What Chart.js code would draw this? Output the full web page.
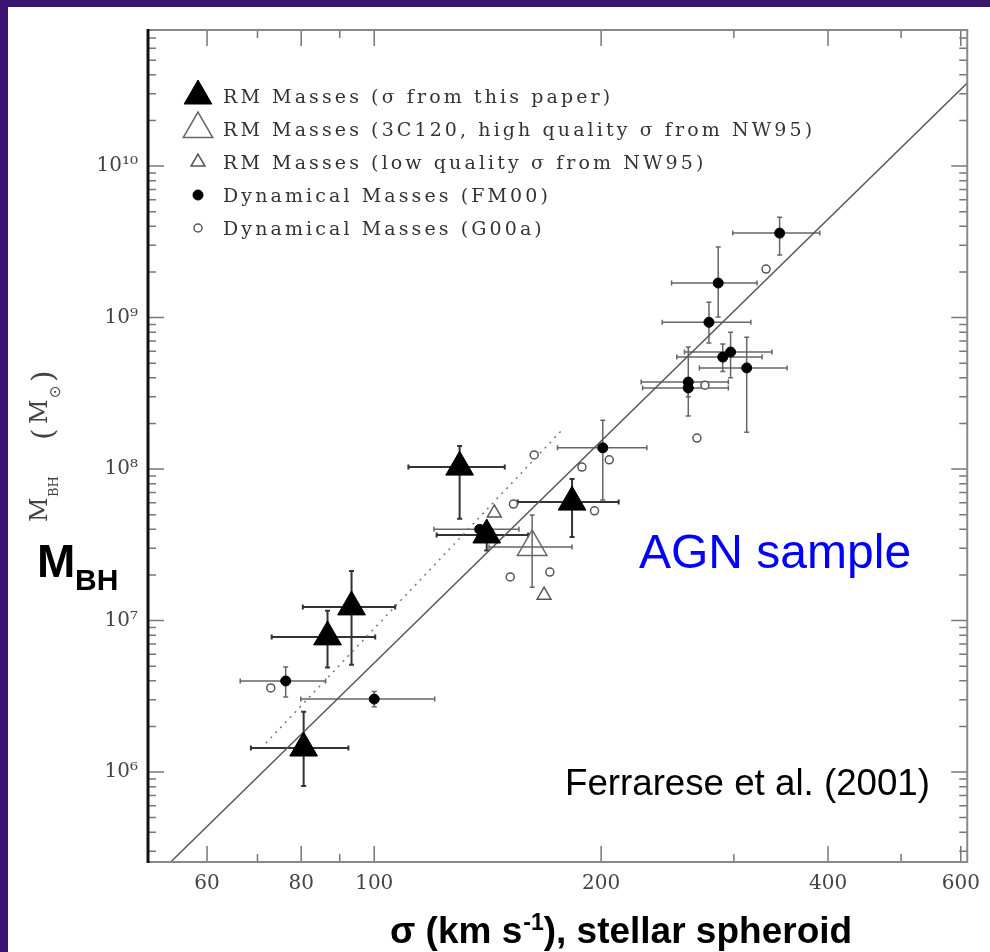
<!DOCTYPE html>
<html>
<head>
<meta charset="utf-8">
<script src="https://cdn.jsdelivr.net/npm/chart.js@4.4.0/dist/chart.umd.min.js"></script>
<style>
  html, body { margin: 0; padding: 0; background: #3a1470; }
  body { width: 990px; height: 952px; overflow: hidden; position: relative; }
  #wrap { position: absolute; left: 8px; top: 7px; width: 982px; height: 945px; background: #fff; }
</style>
</head>
<body>
<div id="wrap"><canvas id="myChart" width="982" height="945"></canvas></div>
<script>
// RM masses (sigma from this paper)
var rmSigma   = [129.8, 183, 141, 93.3, 86.7, 80.6]
var rmMass    = [1.03e8, 6.05e7, 3.67e7, 1.23e7, 7.8e6, 1.44e6]
var rmSigmaLo = [111, 155, 121, 80.4, 73.1, 68.6]
var rmSigmaHi = [149, 211, 160, 106.6, 100.3, 92.4]
var rmMassLo  = [4.7e7, 3.56e7, 2.9e7, 5.1e6, 4.9e6, 8.1e5]
var rmMassHi  = [1.42e8, 8.6e7, 4.3e7, 2.12e7, 1.16e7, 2.5e6]

// RM masses (3C120, high quality sigma from NW95)
var hqSigma   = [162]
var hqMass    = [3.06e7]
var hqSigmaLo = [142]
var hqSigmaHi = [183]
var hqMassLo  = [1.66e7]
var hqMassHi  = [4.97e7]

// RM masses (low quality sigma from NW95)
var lqSigma = [144.3, 168]
var lqMass  = [5.13e7, 1.47e7]

// Dynamical masses (FM00)
var fmSigma   = [345, 286, 278, 297, 290, 312, 261, 261, 201, 76.3, 100, 138]
var fmMass    = [3.61e9, 1.69e9, 9.3e8, 5.92e8, 5.48e8, 4.65e8, 3.75e8, 3.43e8, 1.38e8, 3.99e6, 3.03e6, 4.0e7]
var fmSigmaLo = [299, 248, 241, 258, 252, 270, 226, 227, 175, 66.4, 79.9, 120]
var fmSigmaHi = [390, 322, 316, 337, 327, 353, 295, 295, 230, 86.2, 120.3, 155.6]
var fmMassLo  = [2.59e9, 1.01e9, 6.8e8, 4.0e8, 4.4e8, 1.75e8, 3.0e8, 2.24e8, 6.24e7, 3.13e6, 2.7e6, 3.8e7]
var fmMassHi  = [4.6e9, 2.92e9, 1.26e9, 8.0e8, 6.7e8, 7.4e8, 6.4e8, 4.0e8, 2.1e8, 4.93e6, 3.4e6, 4.2e7]

// Dynamical masses (G00a)
var gSigma = [331, 274.6, 268, 163, 188.6, 205, 153, 196, 151.5, 171, 72.9]
var gMass  = [2.09e9, 3.58e8, 1.6e8, 1.24e8, 1.03e8, 1.15e8, 5.87e7, 5.3e7, 1.94e7, 2.09e7, 3.59e6]

// fit lines
var fitSigma = [53.7, 612]
var fitMass  = [2.55e5, 3.53e10]
var dotSigma = [71.8, 176.9]
var dotMass  = [1.55e6, 1.78e8]

// axes
var xTicks      = [60, 80, 100, 200, 400, 600]
var xTickLabels = ['60', '80', '100', '200', '400', '600']
var xMinor      = [70, 90, 300, 500]
var yTicks      = [1e6, 1e7, 1e8, 1e9, 1e10]
var yTickLabels = ['10\u2076', '10\u2077', '10\u2078', '10\u2079', '10\u00b9\u2070']

var legendLabels = [
  'RM Masses (\u03c3 from this paper)',
  'RM Masses (3C120, high quality \u03c3 from NW95)',
  'RM Masses (low quality \u03c3 from NW95)',
  'Dynamical Masses (FM00)',
  'Dynamical Masses (G00a)'
]

function pts(xs, ys) {
  return xs.map(function(v, i) { return {x: v, y: ys[i]} })
}

var yMinor = []
for (var e = 5; e <= 10; e++) {
  for (var k = 2; k <= 9; k++) yMinor.push(k * Math.pow(10, e))
}

function marker(ctx, style, r, fill, stroke, lw, x, y) {
  ctx.beginPath()
  if (style === 'triangle') {
    var a = 2 * Math.PI / 3
    ctx.moveTo(x, y - r)
    ctx.lineTo(x + Math.sin(a) * r, y - Math.cos(a) * r)
    ctx.lineTo(x + Math.sin(2 * a) * r, y - Math.cos(2 * a) * r)
    ctx.closePath()
  } else {
    ctx.arc(x, y, r, 0, Math.PI * 2)
  }
  if (fill && fill !== 'transparent') { ctx.fillStyle = fill; ctx.fill() }
  if (lw) { ctx.strokeStyle = stroke; ctx.lineWidth = lw; ctx.stroke() }
}

var errorBars = {
  id: 'errorBars',
  beforeDatasetsDraw: function(chart) {
    var ctx = chart.ctx, xs = chart.scales.x, ys = chart.scales.y
    ctx.save()
    chart.data.datasets.forEach(function(ds) {
      if (!ds.errors) return
      var er = ds.errors
      ctx.strokeStyle = er.color
      ctx.lineWidth = er.width
      ds.data.forEach(function(p, i) {
        var px = xs.getPixelForValue(p.x), py = ys.getPixelForValue(p.y)
        var x0 = xs.getPixelForValue(er.xLo[i]), x1 = xs.getPixelForValue(er.xHi[i])
        var y0 = ys.getPixelForValue(er.yLo[i]), y1 = ys.getPixelForValue(er.yHi[i])
        ctx.beginPath()
        ctx.moveTo(x0, py); ctx.lineTo(x1, py)
        ctx.moveTo(px, y0); ctx.lineTo(px, y1)
        // caps
        ctx.moveTo(x0, py - 2.5); ctx.lineTo(x0, py + 2.5)
        ctx.moveTo(x1, py - 2.5); ctx.lineTo(x1, py + 2.5)
        ctx.moveTo(px - 2.5, y0); ctx.lineTo(px + 2.5, y0)
        ctx.moveTo(px - 2.5, y1); ctx.lineTo(px + 2.5, y1)
        ctx.stroke()
      })
    })
    ctx.restore()
  }
}

var frame = {
  id: 'frame',
  afterDraw: function(chart) {
    var ctx = chart.ctx, a = chart.chartArea
    var xs = chart.scales.x, ys = chart.scales.y
    ctx.save()

    // tick marks, pointing inward on all four sides
    ctx.strokeStyle = '#777'
    ctx.lineWidth = 1.5
    ctx.beginPath()
    xTicks.concat(xMinor).forEach(function(v) {
      var len = xTicks.indexOf(v) >= 0 ? 16 : 8
      var px = xs.getPixelForValue(v)
      ctx.moveTo(px, a.bottom); ctx.lineTo(px, a.bottom - len)
      ctx.moveTo(px, a.top); ctx.lineTo(px, a.top + len)
    })
    yTicks.concat(yMinor).forEach(function(v) {
      if (v < ys.min || v > ys.max) return
      var len = yTicks.indexOf(v) >= 0 ? 16 : 8
      var py = ys.getPixelForValue(v)
      ctx.moveTo(a.left, py); ctx.lineTo(a.left + len, py)
      ctx.moveTo(a.right, py); ctx.lineTo(a.right - len, py)
    })
    ctx.stroke()

    // frame
    ctx.strokeStyle = '#888'
    ctx.lineWidth = 2
    ctx.beginPath()
    ctx.moveTo(a.left, a.top); ctx.lineTo(a.right, a.top)
    ctx.lineTo(a.right, a.bottom); ctx.lineTo(a.left, a.bottom)
    ctx.stroke()
    ctx.strokeStyle = '#111'
    ctx.lineWidth = 3
    ctx.beginPath()
    ctx.moveTo(a.left, a.top - 1); ctx.lineTo(a.left, a.bottom + 1)
    ctx.stroke()

    // legend
    ctx.font = '19px "DejaVu Serif"'
    ctx.letterSpacing = '3.1px'
    ctx.textBaseline = 'alphabetic'
    legendLabels.forEach(function(txt, i) {
      var ds = chart.data.datasets[i]
      var base = 96 + i * 33
      marker(ctx, ds.pointStyle, ds.pointRadius, ds.backgroundColor, ds.borderColor, ds.borderWidth, 190, base - 7)
      ctx.fillStyle = '#333'
      ctx.fillText(txt, 215, base)
    })
    ctx.letterSpacing = '0px'

    // y axis title, rotated
    ctx.save()
    ctx.translate(39, 515)
    ctx.rotate(-Math.PI / 2)
    ctx.fillStyle = '#444'
    ctx.font = '24px "DejaVu Serif"'
    ctx.fillText('M', 0, 0)
    ctx.font = '13px "DejaVu Serif"'
    ctx.fillText('BH', 25, 11)
    ctx.font = '30px "DejaVu Serif"'
    ctx.fillText('(', 82, 6)
    ctx.font = '24px "DejaVu Serif"'
    ctx.fillText('M', 98, 0)
    ctx.font = '15px "DejaVu Sans"'
    ctx.fillText('\u2299', 124, 13)
    ctx.font = '30px "DejaVu Serif"'
    ctx.fillText(')', 140, 6)
    ctx.restore()

    // big M_BH
    ctx.fillStyle = '#000'
    ctx.font = 'bold 46px "Liberation Sans"'
    ctx.fillText('M', 29, 570)
    ctx.font = 'bold 30px "Liberation Sans"'
    ctx.fillText('BH', 67, 583)

    // x axis title
    var tx = 382
    ctx.font = 'bold 37px "Liberation Sans"'
    ctx.fillText('\u03c3 (km s', tx, 936)
    tx += ctx.measureText('\u03c3 (km s').width
    ctx.font = 'bold 23px "Liberation Sans"'
    ctx.fillText('-1', tx + 1, 923)
    tx += ctx.measureText('-1').width + 1
    ctx.font = 'bold 37px "Liberation Sans"'
    ctx.fillText('), stellar spheroid', tx, 936)

    // annotations
    ctx.fillStyle = '#0000ff'
    ctx.font = '48px "Liberation Sans"'
    ctx.fillText('AGN sample', 631, 561)
    ctx.fillStyle = '#000'
    ctx.font = '36.7px "Liberation Sans"'
    ctx.fillText('Ferrarese et al. (2001)', 557, 788)

    ctx.restore()
  }
}

Chart.defaults.font.family = '"DejaVu Serif", serif'

var ctx = document.getElementById('myChart')
var myChart = new Chart(ctx, {
  type: 'scatter',
  data: {
    datasets: [
      {
        label: legendLabels[0], data: pts(rmSigma, rmMass),
        pointStyle: 'triangle', pointRadius: 16, backgroundColor: '#000', borderColor: '#000', borderWidth: 1,
        errors: {xLo: rmSigmaLo, xHi: rmSigmaHi, yLo: rmMassLo, yHi: rmMassHi, color: '#333', width: 2}
      },
      {
        label: legendLabels[1], data: pts(hqSigma, hqMass),
        pointStyle: 'triangle', pointRadius: 17, backgroundColor: 'transparent', borderColor: '#666', borderWidth: 1.5,
        errors: {xLo: hqSigmaLo, xHi: hqSigmaHi, yLo: hqMassLo, yHi: hqMassHi, color: '#666', width: 1.5}
      },
      {
        label: legendLabels[2], data: pts(lqSigma, lqMass),
        pointStyle: 'triangle', pointRadius: 8, backgroundColor: '#fff', borderColor: '#555', borderWidth: 1.5
      },
      {
        label: legendLabels[3], data: pts(fmSigma, fmMass),
        pointStyle: 'circle', pointRadius: 5, backgroundColor: '#000', borderColor: '#000', borderWidth: 1,
        errors: {xLo: fmSigmaLo, xHi: fmSigmaHi, yLo: fmMassLo, yHi: fmMassHi, color: '#666', width: 1.5}
      },
      {
        label: legendLabels[4], data: pts(gSigma, gMass),
        pointStyle: 'circle', pointRadius: 4, backgroundColor: '#fff', borderColor: '#555', borderWidth: 1.5
      },
      {
        label: 'fit', data: pts(fitSigma, fitMass), showLine: true, pointRadius: 0,
        borderColor: '#555', borderWidth: 1.5, fill: false
      },
      {
        label: 'fit2', data: pts(dotSigma, dotMass), showLine: true, pointRadius: 0,
        borderColor: '#777', borderWidth: 1.5, borderDash: [2, 5], fill: false
      }
    ]
  },
  options: {
    responsive: false,
    animation: false,
    layout: {padding: {top: 23, right: 17, left: 0, bottom: 0}},
    plugins: {legend: {display: false}, tooltip: {enabled: false}},
    scales: {
      x: {
        type: 'logarithmic', min: 50.1, max: 612,
        grid: {display: false, drawTicks: false}, border: {display: false},
        afterBuildTicks: function(s) { s.ticks = xTicks.map(function(v) { return {value: v} }) },
        afterFit: function(s) { s.height = 90 },
        ticks: {
          autoSkip: false, maxRotation: 0, padding: 10, color: '#444',
          font: {family: '"DejaVu Serif"', size: 20},
          callback: function(v) { var i = xTicks.indexOf(v); return i < 0 ? '' : xTickLabels[i] }
        }
      },
      y: {
        type: 'logarithmic', min: 2.547e5, max: 7.91e10,
        grid: {display: false, drawTicks: false}, border: {display: false},
        afterBuildTicks: function(s) { s.ticks = yTicks.map(function(v) { return {value: v} }) },
        afterFit: function(s) { s.width = 140 },
        ticks: {
          autoSkip: false, padding: 10, color: '#444',
          font: {family: '"DejaVu Serif"', size: 20},
          callback: function(v) { var i = yTicks.indexOf(v); return i < 0 ? '' : yTickLabels[i] }
        }
      }
    }
  },
  plugins: [errorBars, frame]
})
</script>
</body>
</html>
